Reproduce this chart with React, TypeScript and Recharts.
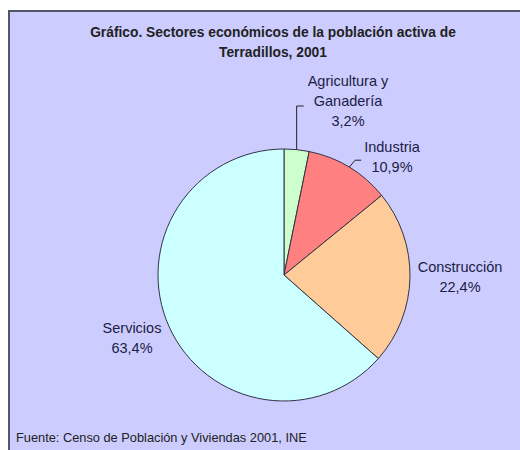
import { PieChart, Pie, Cell } from "recharts";

const SECTORS = ["Agricultura y Ganadería", "Industria", "Construcción", "Servicios"];
const SHARES = [3.2, 10.9, 22.4, 63.4];
const LABEL_LINES = [["Agricultura y", "Ganadería"], ["Industria"], ["Construcción"], ["Servicios"]];
const COLORS = ["#ccffcc", "#ff8080", "#ffcc99", "#ccffff"];

// label placement, relative to pie centre (Excel had them moved by hand)
const LABEL_OFFSETS = [
  { dx: 64, dy: -194 },
  { dx: 108, dy: -128 },
  { dx: 176, dy: -8 },
  { dx: -152, dy: 53 },
];

const data = SECTORS.map((name, i) => ({ name, value: SHARES[i], lines: LABEL_LINES[i] }));

const TEXT = "#1c1c44";
const FONT = "Arial, 'Liberation Sans', sans-serif";
const RAD = Math.PI / 180;

function renderLabel(props: any) {
  const { cx, cy, midAngle, outerRadius, index } = props;
  const off = LABEL_OFFSETS[index];
  const x = cx + off.dx;
  const y = cy + off.dy;
  const lines = [...LABEL_LINES[index], SHARES[index].toFixed(1).replace(".", ",") + "%"];
  const ex = cx + outerRadius * Math.cos(-midAngle * RAD);
  const ey = cy + outerRadius * Math.sin(-midAngle * RAD);
  let leader = null;
  if (index === 0) {
    leader = <polyline points={`${ex},${ey} ${ex},${y + 25} ${ex + 7},${y + 25}`} fill="none" stroke="#222" strokeWidth={1} />;
  } else if (index === 1) {
    leader = <polyline points={`${ex},${ey} ${ex + 6},${ey - 7} ${ex + 12},${ey - 7}`} fill="none" stroke="#222" strokeWidth={1} />;
  }
  return (
    <g key={`lbl-${index}`}>
      {leader}
      <text x={x} y={y} textAnchor="middle" fill={TEXT} fontSize={14.5} fontFamily={FONT}>
        {lines.map((l, i) => (
          <tspan key={i} x={x} dy={i === 0 ? 5 : 20}>
            {l}
          </tspan>
        ))}
      </text>
    </g>
  );
}

export default function App() {
  return (
    <div style={{ position: "absolute", left: 0, top: 0, width: 520, height: 450, background: "#fff", overflow: "hidden", fontFamily: FONT }}>
      <div
        style={{
          position: "absolute",
          left: 8,
          top: 10,
          width: 530,
          height: 460,
          background: "#ccccff",
          borderTop: "2px solid #555566",
          borderLeft: "2px solid #555566",
        }}
      />
      <div style={{ position: "absolute", left: 10, top: 23, width: 526, textAlign: "center", fontWeight: "bold", fontSize: 13.8, lineHeight: "20px", color: "#222" }}>
        Gráfico. Sectores económicos de la población activa de
        <br />
        Terradillos, 2001
      </div>
      <div style={{ position: "absolute", left: 16, top: 430, fontSize: 12.8, color: "#222" }}>
        Fuente: Censo de Población y Viviendas 2001, INE
      </div>
      <div style={{ position: "absolute", left: 0, top: 0 }}>
        <PieChart width={520} height={450} margin={{ top: 0, right: 0, bottom: 0, left: 0 }}>
          <Pie
            data={data}
            dataKey="value"
            nameKey="name"
            cx={284}
            cy={275}
            outerRadius={126}
            startAngle={90}
            endAngle={-270}
            stroke="#333344"
            strokeWidth={1}
            label={renderLabel}
            labelLine={false}
            isAnimationActive={false}
          >
            {data.map((d, i) => (
              <Cell key={d.name} fill={COLORS[i]} />
            ))}
          </Pie>
        </PieChart>
      </div>
    </div>
  );
}
